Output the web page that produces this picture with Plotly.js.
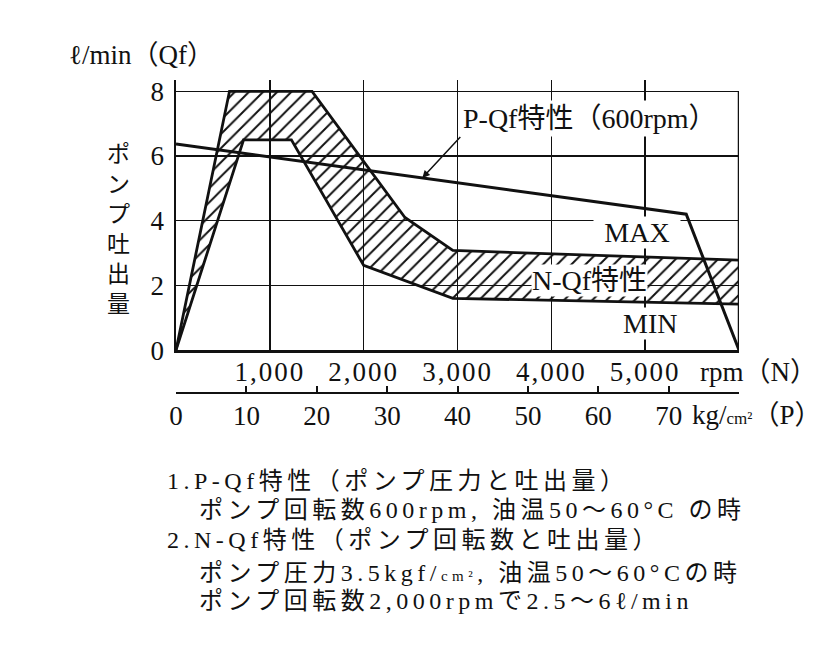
<!DOCTYPE html>
<html>
<head>
<meta charset="utf-8">
<script src="https://cdn.plot.ly/plotly-3.0.1.min.js"></script>
<style>
  html, body { margin: 0; padding: 0; background: #fff; }
  #chart { width: 836px; height: 656px; }
</style>
</head>
<body>
<div id="chart"></div>
<script>
  // axes
  const rpmRange = [0, 6000];
  const rpmTicks = [1000, 2000, 3000, 4000, 5000];
  const rpmLabels = ['1,000', '2,000', '3,000', '4,000', '5,000'];
  const pRange = [0, 80];
  const pTicks = [0, 10, 20, 30, 40, 50, 60, 70, 80];
  const pLabels = ['0', '10', '20', '30', '40', '50', '60', '70', ''];
  const qRange = [0, 8.35];
  const qTicks = [0, 2, 4, 6, 8];

  // N-Qf band (rpm -> l/min)
  const maxRpm = [0, 570, 1450, 2440, 2950, 6000];
  const maxQ = [0, 8, 8, 4.1, 3.08, 2.78];
  const minRpm = [0, 720, 1230, 2000, 2950, 6000];
  const minQ = [0, 6.5, 6.5, 2.62, 1.6, 1.42];

  // P-Qf line at 600rpm (kg/cm2 -> l/min)
  const pqfP = [0, 72.5, 80];
  const pqfQ = [6.37, 4.2, 0];

  const notes = [
    '1.P-Qf特性（ポンプ圧力と吐出量）',
    'ポンプ回転数600rpm, 油温50〜60°C の時',
    '2.N-Qf特性（ポンプ回転数と吐出量）',
    'ポンプ圧力3.5kgf/<span style="font-size:15px">cm²</span>, 油温50〜60°Cの時',
    'ポンプ回転数2,000rpmで2.5〜6ℓ/min'
  ];
  const noteX = [-0.02, 0.037, -0.02, 0.037, 0.037];
  const noteY = [-0.253, -0.344, -0.4375, -0.541, -0.628];

  const SERIF = '"Liberation Serif", "Noto Sans CJK JP", serif';
  const INK = '#111';

  function interp(xs, ys, x) {
    for (let i = 1; i < xs.length; i++) {
      if (x <= xs[i]) {
        const t = (x - xs[i - 1]) / (xs[i] - xs[i - 1]);
        return ys[i - 1] + t * (ys[i] - ys[i - 1]);
      }
    }
    return ys[ys.length - 1];
  }

  function spaced(text, px) {
    return '<span style="letter-spacing:' + px + 'px">' + text + '</span>';
  }

  const band = {
    x: maxRpm.concat(minRpm.slice().reverse()),
    y: maxQ.concat(minQ.slice().reverse()),
    type: 'scatter',
    mode: 'lines',
    fill: 'toself',
    fillcolor: INK,
    fillpattern: { shape: '/', fgcolor: INK, bgcolor: 'rgba(0,0,0,0)', size: 10, solidity: 0.2 },
    line: { width: 0 },
    hoverinfo: 'skip'
  };
  const maxLine = {
    x: maxRpm, y: maxQ, type: 'scatter', mode: 'lines',
    line: { color: INK, width: 2.8 }
  };
  const minLine = {
    x: minRpm, y: minQ, type: 'scatter', mode: 'lines',
    line: { color: INK, width: 2.8 }
  };
  const pqfLine = {
    x: pqfP, y: pqfQ, type: 'scatter', mode: 'lines',
    xaxis: 'x2', yaxis: 'y',
    line: { color: INK, width: 3 }
  };

  const arrowP = 35;
  const annotations = [
    {
      xref: 'x2', yref: 'y', x: arrowP, y: interp(pqfP, pqfQ, arrowP),
      ax: 38, ay: -41, text: 'P-Qf特性（600rpm）',
      xanchor: 'left', yanchor: 'bottom',
      showarrow: true, arrowhead: 2, arrowsize: 1, arrowwidth: 1.5, arrowcolor: INK,
      bgcolor: '#fff', borderpad: 2,
      font: { family: SERIF, size: 28, color: INK }
    },
    {
      xref: 'x', yref: 'y', x: 4915, y: 3.62, text: 'MAX', showarrow: false,
      bgcolor: '#fff', width: 86, borderpad: 0,
      font: { family: SERIF, size: 28, color: INK }
    },
    {
      xref: 'x', yref: 'y', x: 4403, y: 2.16, text: 'N-Qf特性', showarrow: false,
      bgcolor: '#fff', borderpad: 0,
      font: { family: SERIF, size: 28, color: INK }
    },
    {
      xref: 'x', yref: 'y', x: 5053, y: 0.83, text: 'MIN', showarrow: false,
      bgcolor: '#fff', borderpad: 0,
      font: { family: SERIF, size: 28, color: INK }
    },
    {
      xref: 'paper', yref: 'paper', x: -0.194, y: 1.078,
      xanchor: 'left', yanchor: 'middle',
      text: 'ℓ/min（Qf）', showarrow: false,
      font: { family: SERIF, size: 27, color: INK }
    },
    {
      xref: 'paper', yref: 'paper', x: -0.103, y: 0.54,
      xanchor: 'center', yanchor: 'middle',
      text: 'ポ<br>ン<br>プ<br>吐<br>出<br>量', showarrow: false,
      font: { family: '"Noto Sans CJK JP", sans-serif', size: 23, color: INK }
    },
    {
      xref: 'paper', yref: 'paper', x: 0.927, y: 0.0875,
      xanchor: 'left', yanchor: 'middle',
      text: 'rpm（N）', showarrow: false,
      font: { family: SERIF, size: 27, color: INK }
    },
    {
      xref: 'paper', yref: 'paper', x: 0.913, y: -0.047,
      xanchor: 'left', yanchor: 'middle',
      text: 'kg/<span style="font-size:17px">cm²</span>（P）', showarrow: false,
      font: { family: SERIF, size: 27, color: INK }
    }
  ];
  notes.forEach((t, i) => {
    annotations.push({
      xref: 'paper', yref: 'paper', x: noteX[i], y: noteY[i],
      xanchor: 'left', yanchor: 'middle', align: 'left',
      text: spaced(t, 4.5), showarrow: false,
      font: { family: SERIF, size: 24, color: INK }
    });
  });

  const layout = {
    width: 836,
    height: 656,
    margin: { l: 176, r: 97, t: 80, b: 256 },
    paper_bgcolor: '#fff',
    plot_bgcolor: '#fff',
    showlegend: false,
    font: { family: SERIF, color: INK },
    xaxis: {
      range: rpmRange,
      tickvals: rpmTicks,
      ticktext: rpmLabels.map(s => spaced(s, 2)),
      showgrid: true, gridcolor: INK, gridwidth: 1.5,
      showline: true, linecolor: INK, linewidth: 2.5,
      zeroline: false, ticks: '', ticklabelstandoff: -4,
      tickfont: { family: SERIF, size: 27, color: INK },
      anchor: 'y', fixedrange: true
    },
    xaxis2: {
      range: pRange,
      tickvals: pTicks,
      ticktext: pLabels,
      overlaying: 'x', anchor: 'free', position: 0.022, side: 'bottom',
      showgrid: false, zeroline: false,
      showline: true, linecolor: INK, linewidth: 2.5,
      ticks: 'inside', ticklen: 6, tickwidth: 2, tickcolor: INK,
      ticklabelstandoff: -2,
      tickfont: { family: SERIF, size: 27, color: INK },
      fixedrange: true
    },
    yaxis: {
      range: qRange,
      domain: [0.156, 1],
      tickvals: qTicks,
      showgrid: true, gridcolor: INK, gridwidth: 1.5,
      showline: true, linecolor: INK, linewidth: 2.5,
      zeroline: false, ticks: '', ticklabelstandoff: 4,
      tickfont: { family: SERIF, size: 27, color: INK },
      fixedrange: true
    },
    shapes: [{
      type: 'line', xref: 'x', yref: 'y',
      x0: rpmRange[1], x1: rpmRange[1], y0: 0, y1: qTicks[qTicks.length - 1],
      line: { color: INK, width: 2.5 }
    }],
    annotations: annotations
  };

  Plotly.newPlot('chart', [band, maxLine, minLine, pqfLine], layout, {
    displayModeBar: false,
    staticPlot: true
  });
</script>
</body>
</html>
